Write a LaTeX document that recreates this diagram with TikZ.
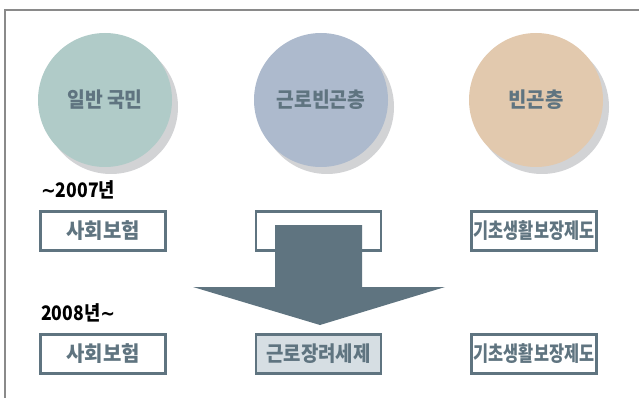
\documentclass[tikz,border=0pt]{standalone}
\usepackage{fontspec}
\setmainfont{Noto Sans CJK KR}
\newfontfamily\kr{Noto Sans CJK KR}
\newfontfamily\dv{DejaVu Sans}
\usetikzlibrary{shapes.geometric}
\definecolor{frameg}{HTML}{8A8A8A}
\definecolor{ink}{HTML}{5F7480}
\definecolor{cA}{HTML}{B0CBC8}
\definecolor{cB}{HTML}{ADBACD}
\definecolor{cC}{HTML}{E2C9AE}
\definecolor{shd}{HTML}{D2D3D5}
\definecolor{boxfill}{HTML}{D6DEE3}
\newcommand{\wtilde}{{\dv\bfseries\char"223C}}
\tikzset{
  circ/.style={circle, minimum size=134pt, inner sep=0pt, font=\kr\bfseries\fontsize{21}{24}\selectfont, text=ink},
  shadowc/.style={circle, minimum size=134pt, inner sep=0pt, fill=shd},
  pbox/.style={draw=ink, line width=2.6pt, fill=white, minimum width=125pt, minimum height=39pt, inner sep=0pt, font=\kr\bfseries\fontsize{21}{24}\selectfont, text=ink},
  yr/.style={font=\kr\bfseries\fontsize{20}{22}\selectfont, text=black, anchor=west, inner sep=0pt},
  bigarrow/.style={fill=ink}
}
\begin{document}
\begin{tikzpicture}[x=1pt,y=-1pt]
\useasboundingbox (0,0) rectangle (639,398);
\draw[frameg, line width=1.5pt] (5,398) -- (5,10) -- (639,10);
% shadows
\node[shadowc] (sA) at (111,107) {};
\node[shadowc] (sB) at (327,107) {};
\node[shadowc] (sC) at (542,107) {};
% circles
\node[circ, fill=cA] (gA) at (105,100) {\scalebox{0.92}[1]{일반 국민}};
\node[circ, fill=cB] (gB) at (321,100) {\scalebox{0.92}[1]{근로빈곤층}};
\node[circ, fill=cC] (gC) at (536,100) {\scalebox{0.95}[1]{빈곤층}};
% years
\node[yr] (y1) at (41,190) {\scalebox{0.88}[1]{\wtilde 2007년}};
\node[yr] (y2) at (41,313) {\scalebox{0.88}[1]{2008년\wtilde}};
% row 1
\node[pbox] (b1) at (103,231) {\scalebox{0.95}[1]{사회보험}};
\node[pbox] (b2) at (318.5,231) {};
\node[pbox] (b3) at (534,231) {\scalebox{0.78}[1]{기초생활보장제도}};
% row 2
\node[pbox] (c1) at (103,354) {\scalebox{0.95}[1]{사회보험}};
\node[pbox, fill=boxfill] (c2) at (318.5,354) {\scalebox{0.9}[1]{근로장려세제}};
\node[pbox] (c3) at (534,354) {\scalebox{0.78}[1]{기초생활보장제도}};
% arrow
\fill[bigarrow] (275,225) -- (362,225) -- (362,287) -- (445,287) -- (320,325) -- (193,287) -- (275,287) -- cycle;
\end{tikzpicture}
\end{document}
